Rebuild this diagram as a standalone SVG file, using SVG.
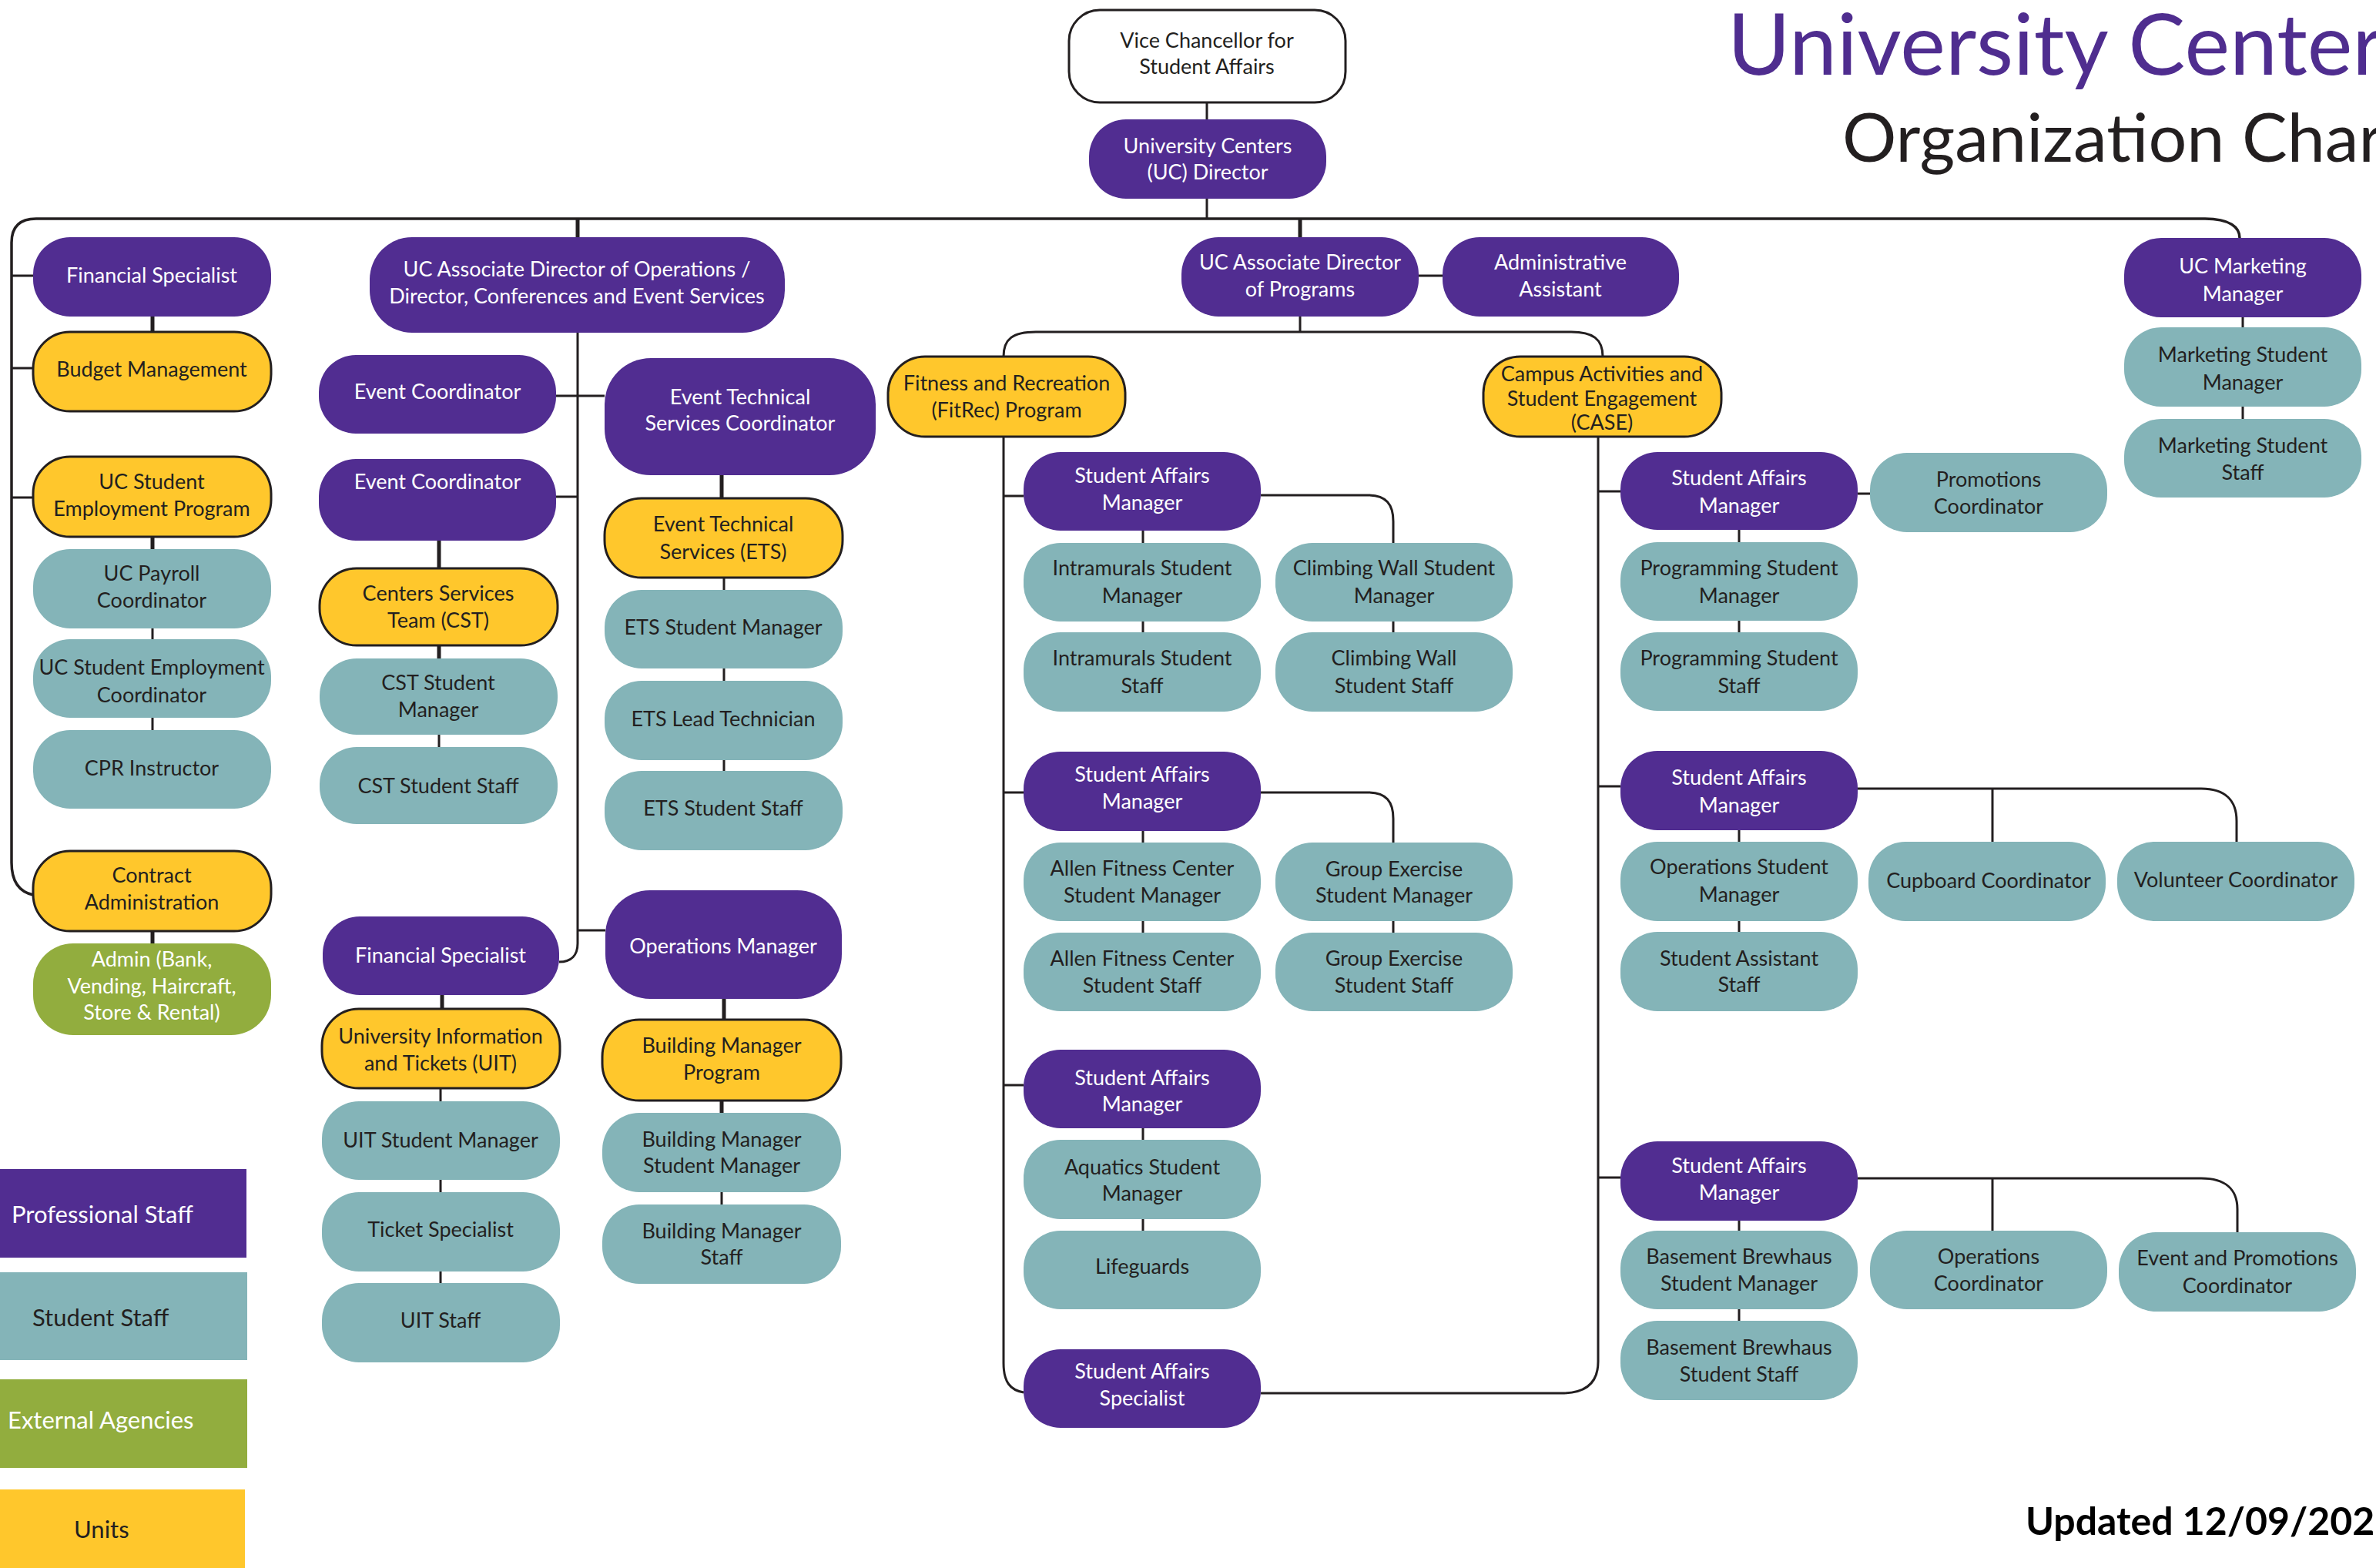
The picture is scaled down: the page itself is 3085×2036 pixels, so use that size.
<svg xmlns="http://www.w3.org/2000/svg" width="3085" height="2036" viewBox="0 0 3085 2036">
<style>
.p{fill:#512D91}
.s{fill:#84B4B8}
.u{fill:#FFC72C;stroke:#231F20;stroke-width:3}
.e{fill:#92AD3E}
.w{fill:#FFFFFF;stroke:#231F20;stroke-width:3}
text{font-family:Lato,"Open Sans","Liberation Sans",sans-serif;font-size:27px;text-anchor:middle;fill:#231F20}
.tw{fill:#FFFFFF}
.c path{stroke:#231F20;stroke-width:3;fill:none}
.c path.k{stroke-width:5}
.lg{font-size:31px;text-anchor:start}
</style>
<rect width="3085" height="2036" fill="#FFFFFF"/>
<g id="title">
<text x="2243" y="97" style="font-size:111px;text-anchor:start;fill:#4F2D8F">University Center</text>
<text x="2392" y="210" style="font-size:88px;text-anchor:start;fill:#231F20">Organization Char</text>
<text x="2630" y="1993" style="font-size:50px;font-weight:bold;text-anchor:start;fill:#000">Updated 12/09/202</text>
</g>
<g class="c" id="connectors">
<path d="M1567,133 V155"/>
<path d="M1567,258 V284"/>
<path d="M43,1162 C25,1158 15,1145 15,1120 V315 C15,295 25,284 47,284 H2863 C2895,284 2908,295 2908,309" style="stroke-width:3.5"/>
<path class="k" d="M750,284 V308"/>
<path d="M15,358 H43 M15,478 H43 M15,646 H43"/>
<path class="k" d="M198,411 V431 M198,697 V713 M198,1209 V1225"/>
<path d="M198,816 V830 M198,932 V948"/>
<path d="M750,432 V1225 C750,1240 742,1249 726,1249"/>
<path d="M722,514 H785 M722,645 H750 M750,1208 H786"/>
<path class="k" d="M937,617 V647 M570,702 V738 M570,838 V855 M574,1292 V1310 M940,1297 V1324 M937,1429 V1445"/>
<path d="M570,954 V970 M940,750 V766 M940,868 V884 M940,987 V1001 M572,1413 V1430 M572,1532 V1548 M572,1651 V1666 M937,1548 V1564"/>
<path class="k" d="M1688,284 V308"/>
<path d="M1842,358 H1873"/>
<path d="M1688,411 V431 M1303,463 C1303,440 1315,431 1345,431 H2040 C2068,431 2081,440 2081,463"/>
<path d="M1303,567 V1770 C1303,1795 1312,1805 1329,1808"/>
<path d="M1303,644 H1329 M1303,1029 H1329 M1303,1409 H1329"/>
<path d="M1637,643 H1776 C1800,643 1809,655 1809,677 V705"/>
<path d="M1637,1029 H1776 C1800,1029 1809,1041 1809,1063 V1094"/>
<path d="M1484,689 V705 M1484,807 V821 M1484,1079 V1094 M1484,1196 V1211 M1484,1465 V1480 M1484,1583 V1598 M1809,807 V821 M1809,1196 V1211"/>
<path d="M1637,1809 H2028 C2060,1809 2075,1795 2075,1768 V567"/>
<path d="M2075,638 H2104 M2412,641 H2428 M2075,1021 H2104 M2075,1529 H2104"/>
<path d="M2258,688 V704 M2258,806 V821 M2258,1078 V1093 M2258,1196 V1210 M2258,1585 V1598 M2258,1700 V1715"/>
<path d="M2412,1024 H2858 C2890,1024 2904,1040 2904,1066 V1093 M2587,1024 V1093"/>
<path d="M2412,1530 H2858 C2890,1530 2905,1545 2905,1570 V1600 M2587,1530 V1598"/>
<path d="M2912,412 V425 M2912,528 V544"/>
</g>
<g id="n-fin-spec-l"><rect class="p" x="43" y="308" width="309" height="103" rx="48"/><text class="tw" x="197" y="367">Financial Specialist</text></g>
<g id="n-budget"><rect class="u" x="43" y="431" width="309" height="103" rx="48"/><text x="197" y="489">Budget Management</text></g>
<g id="n-ucsep"><rect class="u" x="43" y="593" width="309" height="104" rx="48"/><text x="197" y="635">UC Student</text><text x="197" y="670">Employment Program</text></g>
<g id="n-payroll"><rect class="s" x="43" y="713" width="309" height="103" rx="48"/><text x="197" y="754">UC Payroll</text><text x="197" y="789">Coordinator</text></g>
<g id="n-ucsec"><rect class="s" x="43" y="830" width="309" height="102" rx="48"/><text x="197" y="876">UC Student Employment</text><text x="197" y="912">Coordinator</text></g>
<g id="n-cpr"><rect class="s" x="43" y="948" width="309" height="102" rx="48"/><text x="197" y="1007">CPR Instructor</text></g>
<g id="n-contract"><rect class="u" x="43" y="1105" width="309" height="104" rx="48"/><text x="197" y="1146">Contract</text><text x="197" y="1181">Administration</text></g>
<g id="n-admin"><rect class="e" x="43" y="1225" width="309" height="119" rx="52"/><text class="tw" x="197" y="1255">Admin (Bank,</text><text class="tw" x="197" y="1290">Vending, Haircraft,</text><text class="tw" x="197" y="1324">Store &amp; Rental)</text></g>
<g id="n-adops"><rect class="p" x="480" y="308" width="539" height="124" rx="55"/><text class="tw" x="749" y="359">UC Associate Director of Operations /</text><text class="tw" x="749" y="394">Director, Conferences and Event Services</text></g>
<g id="n-ec1"><rect class="p" x="414" y="461" width="308" height="102" rx="48"/><text class="tw" x="568" y="518">Event Coordinator</text></g>
<g id="n-etsc"><rect class="p" x="785" y="465" width="352" height="152" rx="60"/><text class="tw" x="961" y="525">Event Technical</text><text class="tw" x="961" y="559">Services Coordinator</text></g>
<g id="n-ec2"><rect class="p" x="414" y="596" width="308" height="106" rx="48"/><text class="tw" x="568" y="635">Event Coordinator</text></g>
<g id="n-ets"><rect class="u" x="785" y="647" width="309" height="103" rx="48"/><text x="939" y="690">Event Technical</text><text x="939" y="726">Services (ETS)</text></g>
<g id="n-cst"><rect class="u" x="415" y="738" width="309" height="100" rx="48"/><text x="569" y="780">Centers Services</text><text x="569" y="815">Team (CST)</text></g>
<g id="n-cstsm"><rect class="s" x="415" y="855" width="309" height="99" rx="48"/><text x="569" y="896">CST Student</text><text x="569" y="931">Manager</text></g>
<g id="n-cstss"><rect class="s" x="415" y="970" width="309" height="100" rx="48"/><text x="569" y="1030">CST Student Staff</text></g>
<g id="n-etssm"><rect class="s" x="785" y="766" width="309" height="102" rx="48"/><text x="939" y="824">ETS Student Manager</text></g>
<g id="n-etslt"><rect class="s" x="785" y="884" width="309" height="103" rx="48"/><text x="939" y="943">ETS Lead Technician</text></g>
<g id="n-etsss"><rect class="s" x="785" y="1001" width="309" height="103" rx="48"/><text x="939" y="1059">ETS Student Staff</text></g>
<g id="n-finops"><rect class="p" x="419" y="1190" width="307" height="102" rx="48"/><text class="tw" x="572" y="1250">Financial Specialist</text></g>
<g id="n-opsmgr"><rect class="p" x="786" y="1156" width="307" height="141" rx="58"/><text class="tw" x="939" y="1238">Operations Manager</text></g>
<g id="n-uit"><rect class="u" x="418" y="1310" width="309" height="103" rx="48"/><text x="572" y="1355">University Information</text><text x="572" y="1390">and Tickets (UIT)</text></g>
<g id="n-uitsm"><rect class="s" x="418" y="1430" width="309" height="102" rx="48"/><text x="572" y="1490">UIT Student Manager</text></g>
<g id="n-ticket"><rect class="s" x="418" y="1548" width="309" height="103" rx="48"/><text x="572" y="1606">Ticket Specialist</text></g>
<g id="n-uitstaff"><rect class="s" x="418" y="1666" width="309" height="103" rx="48"/><text x="572" y="1724">UIT Staff</text></g>
<g id="n-bmp"><rect class="u" x="782" y="1324" width="310" height="105" rx="48"/><text x="937" y="1367">Building Manager</text><text x="937" y="1402">Program</text></g>
<g id="n-bmsm"><rect class="s" x="782" y="1445" width="310" height="103" rx="48"/><text x="937" y="1489">Building Manager</text><text x="937" y="1523">Student Manager</text></g>
<g id="n-bms"><rect class="s" x="782" y="1564" width="310" height="103" rx="48"/><text x="937" y="1608">Building Manager</text><text x="937" y="1642">Staff</text></g>
<g id="n-vc"><rect class="w" x="1388" y="13" width="359" height="120" rx="40"/><text x="1567" y="62">Vice Chancellor for</text><text x="1567" y="96">Student Affairs</text></g>
<g id="n-ucdir"><rect class="p" x="1414" y="155" width="308" height="103" rx="48"/><text class="tw" x="1568" y="199">University Centers</text><text class="tw" x="1568" y="233">(UC) Director</text></g>
<g id="n-adprog"><rect class="p" x="1534" y="308" width="308" height="103" rx="48"/><text class="tw" x="1688" y="350">UC Associate Director</text><text class="tw" x="1688" y="385">of Programs</text></g>
<g id="n-adminasst"><rect class="p" x="1873" y="308" width="307" height="103" rx="48"/><text class="tw" x="2026" y="350">Administrative</text><text class="tw" x="2026" y="385">Assistant</text></g>
<g id="n-fitrec"><rect class="u" x="1153" y="463" width="308" height="104" rx="48"/><text x="1307" y="507">Fitness and Recreation</text><text x="1307" y="542">(FitRec) Program</text></g>
<g id="n-case"><rect class="u" x="1926" y="463" width="309" height="104" rx="48"/><text x="2080" y="495">Campus Activities and</text><text x="2080" y="527">Student Engagement</text><text x="2080" y="558">(CASE)</text></g>
<g id="n-samf1"><rect class="p" x="1329" y="587" width="308" height="102" rx="48"/><text class="tw" x="1483" y="627">Student Affairs</text><text class="tw" x="1483" y="662">Manager</text></g>
<g id="n-ism"><rect class="s" x="1329" y="705" width="308" height="102" rx="48"/><text x="1483" y="747">Intramurals Student</text><text x="1483" y="783">Manager</text></g>
<g id="n-iss"><rect class="s" x="1329" y="821" width="308" height="103" rx="48"/><text x="1483" y="864">Intramurals Student</text><text x="1483" y="900">Staff</text></g>
<g id="n-cwsm"><rect class="s" x="1656" y="705" width="308" height="102" rx="48"/><text x="1810" y="747">Climbing Wall Student</text><text x="1810" y="783">Manager</text></g>
<g id="n-cwss"><rect class="s" x="1656" y="821" width="308" height="103" rx="48"/><text x="1810" y="864">Climbing Wall</text><text x="1810" y="900">Student Staff</text></g>
<g id="n-samf2"><rect class="p" x="1329" y="976" width="308" height="103" rx="48"/><text class="tw" x="1483" y="1015">Student Affairs</text><text class="tw" x="1483" y="1050">Manager</text></g>
<g id="n-afcsm"><rect class="s" x="1329" y="1094" width="308" height="102" rx="48"/><text x="1483" y="1137">Allen Fitness Center</text><text x="1483" y="1172">Student Manager</text></g>
<g id="n-afcss"><rect class="s" x="1329" y="1211" width="308" height="102" rx="48"/><text x="1483" y="1254">Allen Fitness Center</text><text x="1483" y="1289">Student Staff</text></g>
<g id="n-gesm"><rect class="s" x="1656" y="1094" width="308" height="102" rx="48"/><text x="1810" y="1138">Group Exercise</text><text x="1810" y="1172">Student Manager</text></g>
<g id="n-gess"><rect class="s" x="1656" y="1211" width="308" height="102" rx="48"/><text x="1810" y="1254">Group Exercise</text><text x="1810" y="1289">Student Staff</text></g>
<g id="n-samf3"><rect class="p" x="1329" y="1363" width="308" height="102" rx="48"/><text class="tw" x="1483" y="1409">Student Affairs</text><text class="tw" x="1483" y="1443">Manager</text></g>
<g id="n-asm"><rect class="s" x="1329" y="1480" width="308" height="103" rx="48"/><text x="1483" y="1525">Aquatics Student</text><text x="1483" y="1559">Manager</text></g>
<g id="n-life"><rect class="s" x="1329" y="1598" width="308" height="102" rx="48"/><text x="1483" y="1654">Lifeguards</text></g>
<g id="n-sas"><rect class="p" x="1329" y="1752" width="308" height="102" rx="48"/><text class="tw" x="1483" y="1790">Student Affairs</text><text class="tw" x="1483" y="1825">Specialist</text></g>
<g id="n-samc1"><rect class="p" x="2104" y="587" width="308" height="101" rx="48"/><text class="tw" x="2258" y="630">Student Affairs</text><text class="tw" x="2258" y="666">Manager</text></g>
<g id="n-promo"><rect class="s" x="2428" y="588" width="308" height="103" rx="48"/><text x="2582" y="632">Promotions</text><text x="2582" y="667">Coordinator</text></g>
<g id="n-psm"><rect class="s" x="2104" y="704" width="308" height="102" rx="48"/><text x="2258" y="747">Programming Student</text><text x="2258" y="783">Manager</text></g>
<g id="n-pss"><rect class="s" x="2104" y="821" width="308" height="102" rx="48"/><text x="2258" y="864">Programming Student</text><text x="2258" y="900">Staff</text></g>
<g id="n-samc2"><rect class="p" x="2104" y="975" width="308" height="103" rx="48"/><text class="tw" x="2258" y="1019">Student Affairs</text><text class="tw" x="2258" y="1055">Manager</text></g>
<g id="n-osm"><rect class="s" x="2104" y="1093" width="308" height="103" rx="48"/><text x="2258" y="1135">Operations Student</text><text x="2258" y="1171">Manager</text></g>
<g id="n-sastaff"><rect class="s" x="2104" y="1210" width="308" height="103" rx="48"/><text x="2258" y="1254">Student Assistant</text><text x="2258" y="1288">Staff</text></g>
<g id="n-cupboard"><rect class="s" x="2426" y="1093" width="308" height="103" rx="48"/><text x="2582" y="1153">Cupboard Coordinator</text></g>
<g id="n-volunteer"><rect class="s" x="2749" y="1093" width="308" height="103" rx="48"/><text x="2903" y="1152">Volunteer Coordinator</text></g>
<g id="n-samc3"><rect class="p" x="2104" y="1482" width="308" height="103" rx="48"/><text class="tw" x="2258" y="1523">Student Affairs</text><text class="tw" x="2258" y="1558">Manager</text></g>
<g id="n-bbsm"><rect class="s" x="2104" y="1598" width="308" height="102" rx="48"/><text x="2258" y="1641">Basement Brewhaus</text><text x="2258" y="1676">Student Manager</text></g>
<g id="n-bbss"><rect class="s" x="2104" y="1715" width="308" height="103" rx="48"/><text x="2258" y="1759">Basement Brewhaus</text><text x="2258" y="1794">Student Staff</text></g>
<g id="n-opscoord"><rect class="s" x="2428" y="1598" width="308" height="102" rx="48"/><text x="2582" y="1641">Operations</text><text x="2582" y="1676">Coordinator</text></g>
<g id="n-epc"><rect class="s" x="2751" y="1600" width="308" height="103" rx="48"/><text x="2905" y="1643">Event and Promotions</text><text x="2905" y="1679">Coordinator</text></g>
<g id="n-ucmm"><rect class="p" x="2758" y="309" width="308" height="103" rx="48"/><text class="tw" x="2912" y="355">UC Marketing</text><text class="tw" x="2912" y="391">Manager</text></g>
<g id="n-msm"><rect class="s" x="2758" y="425" width="308" height="103" rx="48"/><text x="2912" y="470">Marketing Student</text><text x="2912" y="506">Manager</text></g>
<g id="n-mss"><rect class="s" x="2758" y="544" width="308" height="102" rx="48"/><text x="2912" y="588">Marketing Student</text><text x="2912" y="623">Staff</text></g>
<g id="legend">
<rect class="p" x="0" y="1518" width="320" height="115"/><text class="lg tw" x="15" y="1588">Professional Staff</text>
<rect class="s" x="0" y="1652" width="321" height="114"/><text class="lg" x="42" y="1722">Student Staff</text>
<rect class="e" x="0" y="1791" width="321" height="115"/><text class="lg tw" x="10" y="1855">External Agencies</text>
<rect fill="#FFC72C" x="0" y="1934" width="318" height="102"/><text class="lg" x="96" y="1997">Units</text>
</g>
</svg>
